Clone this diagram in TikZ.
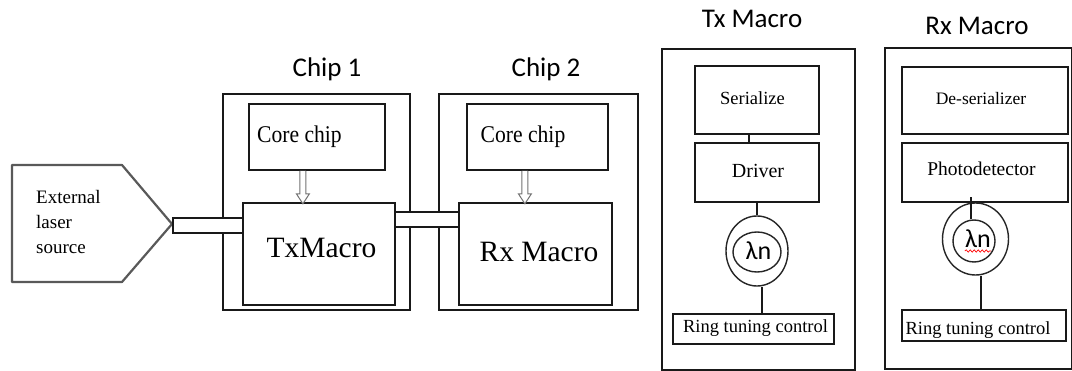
\documentclass[tikz,border=0pt]{standalone}
\usepackage{fontspec}
\setmainfont{Liberation Serif}
\newfontfamily\titlefont{Carlito}
\newfontfamily\condserif[FakeStretch=0.9]{Liberation Serif}
\usetikzlibrary{shapes.geometric,calc,decorations.pathmorphing}
\begin{document}
\begin{tikzpicture}[x=1pt,y=-1pt,
  blk/.style={draw=black!90, line width=1.8pt, inner sep=0pt, anchor=north west, fill=white},
  ringo/.style={draw=black!85, line width=1.4pt, ellipse, inner sep=0pt},
  wgd/.style={draw=black!90, line width=1.8pt, fill=white, inner sep=0pt, anchor=west},
  lnk/.style={draw=black!90, line width=1.8pt},
  ttl/.style={font=\titlefont\fontsize{27}{30}\selectfont, anchor=base, inner sep=0pt},
  txt/.style={anchor=base, inner sep=0pt},
  lam/.style={font=\titlefont\fontsize{26}{28}\selectfont, anchor=base, inner sep=0pt},
  harrow/.style={draw=black!55, line width=1pt, fill=white},
]
\useasboundingbox (0,0) rectangle (1072,371);

% external laser source
\coordinate (p1) at (12,165);
\coordinate (p2) at (122,165);
\coordinate (tip) at (172,224);
\coordinate (p4) at (122,282);
\coordinate (p5) at (12,282);
\draw[draw=black!65, line width=2.2pt, line join=round] (p1) -- (p2) -- (tip) -- (p4) -- (p5) -- cycle;
\node[anchor=base west, inner sep=0pt, font=\fontsize{19}{25}\selectfont] (ext1) at (36,204) {External};
\node[anchor=base west, inner sep=0pt, font=\fontsize{19}{25}\selectfont] (ext2) at (36,229) {laser};
\node[anchor=base west, inner sep=0pt, font=\fontsize{19}{25}\selectfont] (ext3) at (36,254) {source};

% chips
\node[blk, minimum width=187pt, minimum height=216pt] (chip1) at (222,93) {};
\node[blk, minimum width=199pt, minimum height=216pt] (chip2) at (438,93) {};
\node[ttl] (chip1t) at (327,77) {Chip 1};
\node[ttl] (chip2t) at (546,77) {Chip 2};

% waveguides
\node[wgd, minimum width=70pt, minimum height=15pt] (wg1) at ([yshift=-1.5pt]tip) {};
\node[wgd, minimum width=64pt, minimum height=15pt] (wg2) at (394,219.5) {};

\node[blk, minimum width=136pt, minimum height=66pt] (core1) at (248,103) {};
\node[blk, minimum width=152pt, minimum height=102pt] (txm) at (242,202) {};
\node[blk, minimum width=141pt, minimum height=66pt] (core2) at (466,103) {};
\node[blk, minimum width=153pt, minimum height=102pt] (rxm) at (458,202) {};

\node[txt, font=\condserif\fontsize{24}{26}\selectfont] (core1t) at (299.5,143) {Core chip};
\node[txt, font=\condserif\fontsize{24}{26}\selectfont] (core2t) at (523,143) {Core chip};
\node[txt, font=\fontsize{29.5}{32}\selectfont] (txmt) at (321.5,258) {TxMacro};
\node[txt, font=\fontsize{29.5}{32}\selectfont] (rxmt) at (539,262) {Rx Macro};

% hollow arrows core -> macro
\draw[harrow] ([xshift=-17pt]core1.south) -- ++(0,23) -- ++(-3.5,0) -- ++(6.5,10) -- ++(6.5,-10) -- ++(-3.5,0) -- ++(0,-23);
\draw[harrow] ([xshift=-15.5pt]core2.south) -- ++(0,23) -- ++(-3.5,0) -- ++(6.5,10) -- ++(6.5,-10) -- ++(-3.5,0) -- ++(0,-23);

% Tx Macro panel
\node[ttl] (txpt) at (752,28) {Tx Macro};
\node[blk, minimum width=193pt, minimum height=321pt] (txp) at (661,48) {};
\node[blk, minimum width=124pt, minimum height=68pt] (ser) at (694,65) {};
\node[blk, minimum width=124pt, minimum height=59pt] (drv) at (694,142) {};
\node[blk, minimum width=161pt, minimum height=30pt] (rtc1) at (672,313) {};
\node[ringo, minimum width=62pt, minimum height=70pt] (txo) at (757,251) {};
\node[ringo, minimum width=48pt, minimum height=40pt] (txi) at (757,252) {};
\node[txt, font=\fontsize{18.5}{20}\selectfont] (sert) at (752.5,105) {Serialize};
\node[txt, font=\fontsize{20}{22}\selectfont] (drvt) at (758,178) {Driver};
\node[txt, font=\fontsize{18.5}{20}\selectfont] (rtc1t) at (755.5,333) {Ring tuning control};
\node[lam] (txl) at (758.5,260) {λn};
\draw[lnk] ([xshift=-8pt]ser.south) -- ([xshift=-8pt]drv.north);
\draw[lnk] (drv.south) -- (drv.south |- txo.north);
\draw[lnk] ($(txo.south)+(5,0)$) -- ($(txo.south |- rtc1.north)+(5,0)$);

% Rx Macro panel
\node[ttl] (rxpt) at (977,35) {Rx Macro};
\node[blk, minimum width=187pt, minimum height=321pt] (rxp) at (884,47) {};
\node[blk, minimum width=166pt, minimum height=67pt] (des) at (901,66) {};
\node[blk, minimum width=166pt, minimum height=59pt] (pd) at (901,142) {};
\node[blk, minimum width=164pt, minimum height=31pt] (rtc2) at (901,309) {};
\node[ringo, minimum width=66pt, minimum height=72pt] (rxo) at (975.5,239) {};
\node[ringo, minimum width=42pt, minimum height=42pt] (rxi) at (974,241) {};
\node[txt, font=\fontsize{17.5}{19}\selectfont] (dest) at (981,105) {De-serializer};
\node[txt, font=\fontsize{19.5}{21}\selectfont] (pdt) at (981.5,176) {Photodetector};
\node[txt, font=\fontsize{18.5}{20}\selectfont] (rtc2t) at (978,335) {Ring tuning control};
\node[lam] (rxl) at (978,248) {λn};
\draw[red, line width=0.7pt, decorate, decoration={snake, amplitude=1.2pt, segment length=4pt}] ($(rxl.base west)+(0,3)$) -- ($(rxl.base east)+(0,3)$);
\draw[lnk] ($(rxi.north)+(-3,0)$) -- ($(rxi.north |- pd.south)+(-3,-6)$);
\draw[lnk] ($(rxo.south)+(5.5,0)$) -- ($(rxo.south |- rtc2.north)+(5.5,0)$);
\end{tikzpicture}
\end{document}
